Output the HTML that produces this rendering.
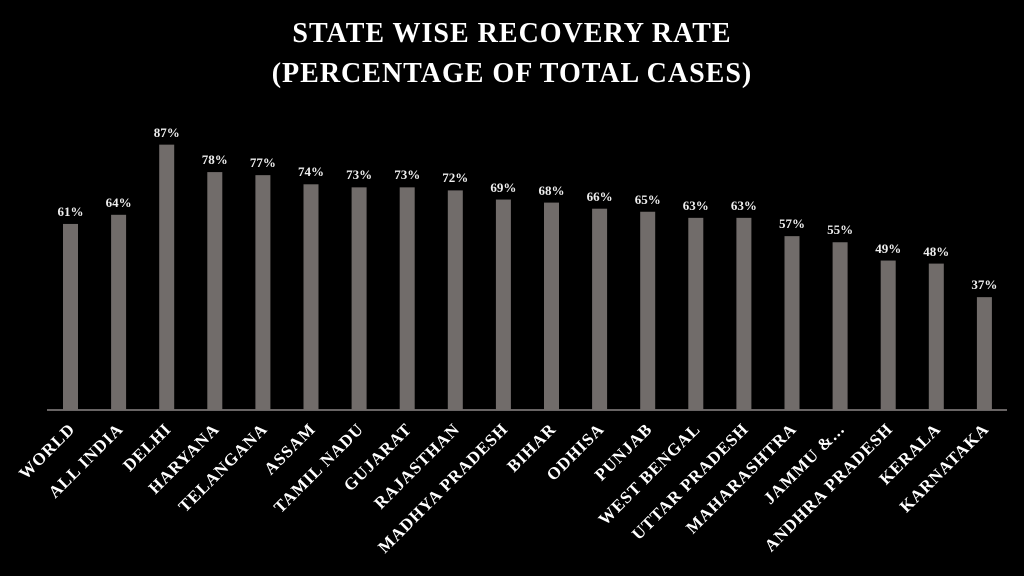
<!DOCTYPE html>
<html><head><style>
html,body{margin:0;padding:0;background:#000;width:1024px;height:576px;overflow:hidden}
svg{display:block}
</style></head><body>
<svg width="1024" height="576" viewBox="0 0 1024 576" xmlns="http://www.w3.org/2000/svg">
<rect width="1024" height="576" fill="#000"/>
<g font-family="Liberation Serif, serif" font-weight="bold" fill="#fff" text-anchor="middle" letter-spacing="1">
<text x="512" y="42" font-size="28">STATE WISE RECOVERY RATE</text>
<text x="512" y="82" font-size="28">(PERCENTAGE OF TOTAL CASES)</text>
</g>
<line x1="47" y1="410" x2="1007" y2="410" stroke="#8a8685" stroke-width="1.5"/>
<g fill="#716c6a">
<rect x="63" y="223.95" width="15" height="186.05"/>
<rect x="111.1" y="214.8" width="15" height="195.2"/>
<rect x="159.2" y="144.65" width="15" height="265.35"/>
<rect x="207.3" y="172.1" width="15" height="237.9"/>
<rect x="255.4" y="175.15" width="15" height="234.85"/>
<rect x="303.5" y="184.3" width="15" height="225.7"/>
<rect x="351.6" y="187.35" width="15" height="222.65"/>
<rect x="399.7" y="187.35" width="15" height="222.65"/>
<rect x="447.8" y="190.4" width="15" height="219.6"/>
<rect x="495.9" y="199.55" width="15" height="210.45"/>
<rect x="544" y="202.6" width="15" height="207.4"/>
<rect x="592.1" y="208.7" width="15" height="201.3"/>
<rect x="640.2" y="211.75" width="15" height="198.25"/>
<rect x="688.3" y="217.85" width="15" height="192.15"/>
<rect x="736.4" y="217.85" width="15" height="192.15"/>
<rect x="784.5" y="236.15" width="15" height="173.85"/>
<rect x="832.6" y="242.25" width="15" height="167.75"/>
<rect x="880.7" y="260.55" width="15" height="149.45"/>
<rect x="928.8" y="263.6" width="15" height="146.4"/>
<rect x="976.9" y="297.15" width="15" height="112.85"/>
</g>
<g font-family="Liberation Serif, serif" font-weight="bold" font-size="13" fill="#eee" text-anchor="middle">
<text x="70.5" y="216">61%</text>
<text x="118.6" y="207">64%</text>
<text x="166.7" y="137">87%</text>
<text x="214.8" y="164">78%</text>
<text x="262.9" y="167">77%</text>
<text x="311" y="176">74%</text>
<text x="359.1" y="179">73%</text>
<text x="407.2" y="179">73%</text>
<text x="455.3" y="182">72%</text>
<text x="503.4" y="192">69%</text>
<text x="551.5" y="195">68%</text>
<text x="599.6" y="201">66%</text>
<text x="647.7" y="204">65%</text>
<text x="695.8" y="210">63%</text>
<text x="743.9" y="210">63%</text>
<text x="792" y="228">57%</text>
<text x="840.1" y="234">55%</text>
<text x="888.2" y="253">49%</text>
<text x="936.3" y="256">48%</text>
<text x="984.4" y="289">37%</text>
</g>
<g font-family="Liberation Serif, serif" font-weight="bold" font-size="17" letter-spacing="1" fill="#fff" text-anchor="end">
<text transform="translate(76,430) rotate(-45)">WORLD</text>
<text transform="translate(124.1,430) rotate(-45)">ALL INDIA</text>
<text transform="translate(172.2,430) rotate(-45)">DELHI</text>
<text transform="translate(220.3,430) rotate(-45)">HARYANA</text>
<text transform="translate(268.4,430) rotate(-45)">TELANGANA</text>
<text transform="translate(316.5,430) rotate(-45)">ASSAM</text>
<text transform="translate(364.6,430) rotate(-45)">TAMIL NADU</text>
<text transform="translate(412.7,430) rotate(-45)">GUJARAT</text>
<text transform="translate(460.8,430) rotate(-45)">RAJASTHAN</text>
<text transform="translate(508.9,430) rotate(-45)">MADHYA PRADESH</text>
<text transform="translate(557,430) rotate(-45)">BIHAR</text>
<text transform="translate(605.1,430) rotate(-45)">ODHISA</text>
<text transform="translate(653.2,430) rotate(-45)">PUNJAB</text>
<text transform="translate(701.3,430) rotate(-45)">WEST BENGAL</text>
<text transform="translate(749.4,430) rotate(-45)">UTTAR PRADESH</text>
<text transform="translate(797.5,430) rotate(-45)">MAHARASHTRA</text>
<text transform="translate(845.6,430) rotate(-45)">JAMMU &amp;...</text>
<text transform="translate(893.7,430) rotate(-45)">ANDHRA PRADESH</text>
<text transform="translate(941.8,430) rotate(-45)">KERALA</text>
<text transform="translate(989.9,430) rotate(-45)">KARNATAKA</text>
</g>
</svg>
</body></html>
